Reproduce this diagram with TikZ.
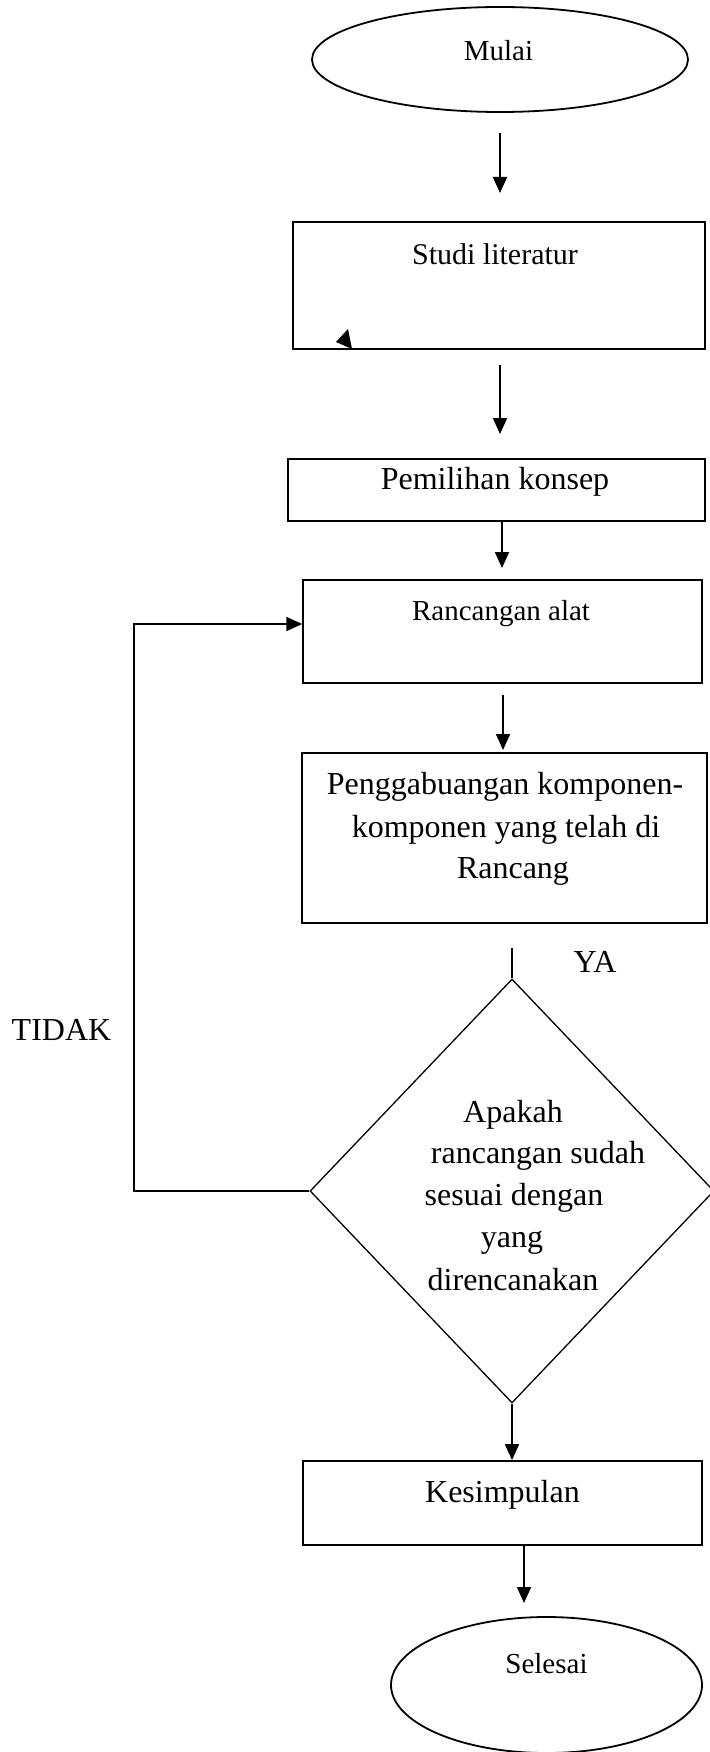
\documentclass[tikz,border=0pt]{standalone}
\usepackage{fontspec}
\setmainfont{Liberation Serif}
\usetikzlibrary{shapes.geometric,arrows.meta}
\begin{document}
\begin{tikzpicture}[x=1pt,y=-1pt,
  box/.style={draw,line width=1.8pt,rectangle,inner sep=0pt},
  oval/.style={draw,line width=1.8pt,ellipse,inner sep=0pt},
  dec/.style={draw,line width=1.3pt,diamond,inner sep=0pt},
  arr/.style={line width=1.8pt,-{Triangle[length=16pt,width=14pt]}},
  plain/.style={line width=1.5pt},
  big/.style={font=\fontsize{32}{38}\selectfont,anchor=base,inner sep=0pt},
  small/.style={font=\fontsize{29}{35}\selectfont,anchor=base,inner sep=0pt}]
\useasboundingbox (0,0) rectangle (709,1752);
% shapes
\node[oval,minimum width=376pt,minimum height=105pt] (mulai) at (500,59.5) {};
\node[box,minimum width=412pt,minimum height=127pt,line width=1.5pt] (studi) at (499,285.5) {};
\node[box,minimum width=417pt,minimum height=62pt,line width=2.2pt] (pemilihan) at (496.5,490) {};
\node[box,minimum width=399pt,minimum height=103pt,line width=1.5pt] (rancangan) at (502.5,631.5) {};
\node[box,minimum width=405pt,minimum height=170pt] (gabung) at (504.5,838) {};
\node[dec,minimum width=404pt,minimum height=424pt] (dia) at (512,1191) {};
\node[box,minimum width=399pt,minimum height=84pt] (kesimpulan) at (502.5,1503) {};
\node[oval,minimum width=311pt,minimum height=136pt] (selesai) at (546.5,1685) {};
% texts
\node[small] (tmulai) at (498.5,61) {Mulai};
\node[small,font=\fontsize{30}{36}\selectfont] (tstudi) at (495,265) {Studi literatur};
\node[big] (tpemilihan) at (495,489) {Pemilihan konsep};
\node[small] (trancangan) at (501,620) {Rancangan alat};
\node[big] (tg1) at (505,794) {Penggabuangan komponen-};
\node[big] (tg2) at (506,837) {komponen yang telah di};
\node[big] (tg3) at (513,878) {Rancang};
\node[big] (td1) at (513,1122) {Apakah};
\node[big] (td2) at (538,1163) {rancangan sudah};
\node[big] (td3) at (514,1205) {sesuai dengan};
\node[big] (td4) at (512,1247) {yang};
\node[big] (td5) at (513,1290) {direncanakan};
\node[big] (ttidak) at (61.5,1040) {TIDAK};
\node[big] (tya) at (595,972) {YA};
\node[big] (tkes) at (502.5,1502) {Kesimpulan};
\node[small] (tsel) at (546.5,1673) {Selesai};
% connector end points
\coordinate (a1s) at (500,133);
\coordinate (a1e) at (500,193);
\coordinate (a2s) at (500,365);
\coordinate (a2e) at (500,434);
\coordinate (a3s) at (502,521);
\coordinate (a3e) at (502,568);
\coordinate (a4s) at (503,695);
\coordinate (a4e) at (503,750);
\coordinate (ya) at (512,948);
\coordinate (fb) at (134,624);
\coordinate (a6s) at (524,1545);
\coordinate (a6e) at (524,1603);
% connectors
\draw[arr] (a1s) -- (a1e);
\draw[arr] (a2s) -- (a2e);
\draw[arr] (a3s) -- (a3e);
\draw[arr] (a4s) -- (a4e);
\draw[plain] (ya) -- (dia.north);
\draw[arr] (dia.west) -| (fb) -- (fb -| rancangan.west);
\draw[arr] (dia.south) -- (dia.south |- kesimpulan.north);
\draw[arr] (a6s) -- (a6e);
% stray arrow head in Studi literatur box
\fill (348,329) -- (336,342) -- (352,349) -- cycle;
\end{tikzpicture}
\end{document}
